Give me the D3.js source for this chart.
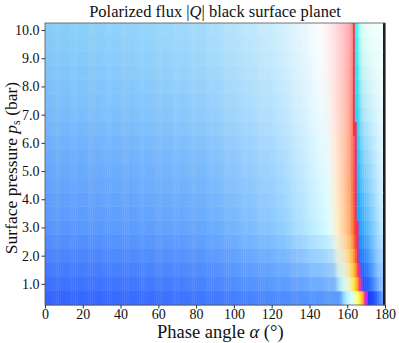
<!DOCTYPE html>
<html>
<head>
<meta charset="utf-8">
<script src="https://cdn.jsdelivr.net/npm/d3@7"></script>
<style>
  body { margin: 0; background: #fff; }
  svg { display: block; }
  svg text { font-family: "Liberation Serif", "DejaVu Serif", serif; fill: #111; }
  .tick line { stroke: #333; }
</style>
</head>
<body>
<svg width="399" height="343"></svg>
<script>
// surface pressure rows (bar), one band of 0.5 bar each
const pressures = [0.5, 1.0, 1.5, 2.0, 2.5, 3.0, 3.5, 4.0, 4.5, 5.0,
  5.5, 6.0, 6.5, 7.0, 7.5, 8.0, 8.5, 9.0, 9.5, 10.0];
// phase angle of the neutral point (red band) per row, degrees
const neutralAngle = [170.0, 167.2, 166.3, 165.7, 165.3, 165.0, 164.8, 164.6, 164.4, 164.3,
  164.2, 164.1, 164.0, 163.9, 163.8, 163.7, 163.6, 163.5, 163.4, 163.3];
// shade level per row: 0 = thin atmosphere look, 1 = thick atmosphere look
const shadeLevel = [0.0, 0.12, 0.22, 0.32, 0.42, 0.5, 0.55, 0.59, 0.63, 0.67,
  0.71, 0.75, 0.8, 0.84, 0.87, 0.9, 0.93, 0.955, 0.98, 1.0];
// phase angle columns, 1 degree wide; the 179-180 column has no value
const phaseAngles = d3.range(0, 180, 1);
const emptyAngle = 179;

const xTicks = [0, 20, 40, 60, 80, 100, 120, 140, 160, 180];
const yTicks = [1.0, 2.0, 3.0, 4.0, 5.0, 6.0, 7.0, 8.0, 9.0, 10.0];

// colour ramps against distance to the neutral point (degrees)
const thinStops = [[-170, '#3565ff'], [-130, '#386bff'], [-90, '#3f76ff'], [-46, '#4d8cff'],
  [-14, '#5c9cff'], [-11, '#a8e8ff'], [-8, '#d0ffff'], [-6, '#f0ffc0'], [-4, '#ffff50'],
  [-2, '#ffc020'], [-1, '#ff7030'], [-0.5, '#ff2090'], [0.5, '#c020ff'],
  [0.51, '#6020ff'], [1.5, '#2838ff'], [4, '#2050ff'], [6, '#3070ff'], [8, '#5890ff'], [10, '#80b0ff']];
const midStops = [[-170, '#5794fe'], [-120, '#5c9cfd'], [-80, '#66a8fd'], [-41, '#8ccaff'],
  [-14, '#d8ffff'], [-10.5, '#fff0d0'], [-6, '#ffc890'], [-3, '#ffa060'], [-1.5, '#ff6428'],
  [-0.5, '#ff2a60'], [0.5, '#ff2070'], [0.51, '#10a0ff'], [2, '#20a0ff'], [4, '#40b0ff'],
  [8, '#78c8ff'], [12, '#b0e0ff'], [16, '#d8f0ff']];
const thickStops = [[-170, '#84cbf9'], [-120, '#90d2fa'], [-80, '#a2dbfb'], [-40, '#cdeefc'],
  [-25, '#eaf8fe'], [-18, '#fbfdff'], [-15, '#fff4f4'], [-10, '#ffdfe2'], [-6, '#ffc8cc'],
  [-3, '#ffb0b6'], [-1.2, '#ff9aa2'], [-0.6, '#ff9098'], [-0.5, '#ff3040'], [0.5, '#ff2f3a'],
  [0.51, '#30f0f0'], [1.8, '#40eef0'], [3, '#a0f8f4'], [5, '#d8fff6'], [10, '#eefffa'], [20, '#f6fffc']];

const ramp = stops => d3.scaleLinear()
  .domain(stops.map(s => s[0])).range(stops.map(s => s[1]))
  .interpolate(d3.interpolateRgb).clamp(true);
const thinRamp = ramp(thinStops), midRamp = ramp(midStops), thickRamp = ramp(thickStops);

function cellColor(level, d) {
  return d3.scaleLinear().domain([0, 0.5, 1])
    .range([thinRamp(d), midRamp(d), thickRamp(d)])
    .interpolate(d3.interpolateRgb)(level);
}

const svg = d3.select('svg');
const margin = {left: 45, right: 14, top: 23, bottom: 38};
const W = 399, H = 343;

const x = d3.scaleLinear().domain([0, 180]).range([margin.left, W - margin.right]);
const y = d3.scaleLinear().domain([0.25, 10.25]).range([H - margin.bottom, margin.top]);

const cells = [];
pressures.forEach((p, i) => {
  phaseAngles.forEach(a => {
    cells.push({p: p, a: a, row: i});
  });
});

svg.append('g')
  .selectAll('rect')
  .data(cells)
  .enter().append('rect')
  .attr('x', d => x(d.a))
  .attr('y', d => y(d.p + 0.25))
  .attr('width', d => x(d.a + 1) - x(d.a) + 0.4)
  .attr('height', d => y(d.p - 0.25) - y(d.p + 0.25) + 0.4)
  .attr('fill', d => d.a === emptyAngle ? '#000'
    : cellColor(shadeLevel[d.row], d.a + 0.5 - neutralAngle[d.row]));

// frame
svg.append('rect')
  .attr('x', x(0)).attr('y', y(10.25))
  .attr('width', x(180) - x(0)).attr('height', y(0.25) - y(10.25))
  .attr('fill', 'none').attr('stroke', '#555').attr('stroke-width', 0.8);

const xAxis = svg.append('g')
  .attr('transform', `translate(0,${y(0.25)})`)
  .call(d3.axisBottom(x).tickValues(xTicks).tickSize(3.5).tickPadding(1).tickFormat(d3.format('d')));
const yAxis = svg.append('g')
  .attr('transform', `translate(${x(0)},0)`)
  .call(d3.axisLeft(y).tickValues(yTicks).tickSize(3.5).tickPadding(2).tickFormat(d3.format('.1f')));
[xAxis, yAxis].forEach(g => {
  g.select('.domain').remove();
  g.attr('font-family', null).attr('font-size', null);
});
svg.selectAll('.tick text')
  .style('font-family', '"Liberation Serif", serif').style('font-size', '14px');

// title
const title = svg.append('text')
  .attr('x', (x(0) + x(180)) / 2).attr('y', 17)
  .attr('text-anchor', 'middle').style('font-size', '16.5px');
title.append('tspan').text('Polarized flux |');
title.append('tspan').attr('font-style', 'italic').text('Q');
title.append('tspan').text('| black surface planet');

// x label
const xl = svg.append('text')
  .attr('x', 157).attr('y', 338)
  .attr('text-anchor', 'start').style('font-size', '18.5px');
xl.append('tspan').text('Phase angle ');
xl.append('tspan').attr('font-style', 'italic').text('α');
xl.append('tspan').text(' (°)');

// y label
const yl = svg.append('text')
  .attr('transform', `translate(17,168) rotate(-90)`)
  .attr('text-anchor', 'middle').style('font-size', '17.5px');
yl.append('tspan').text('Surface pressure ');
yl.append('tspan').attr('font-style', 'italic').text('p');
yl.append('tspan').style('font-size', '12px').attr('dy', 3).text('s');
yl.append('tspan').attr('dy', -3).text(' (bar)');
</script>
</body>
</html>
